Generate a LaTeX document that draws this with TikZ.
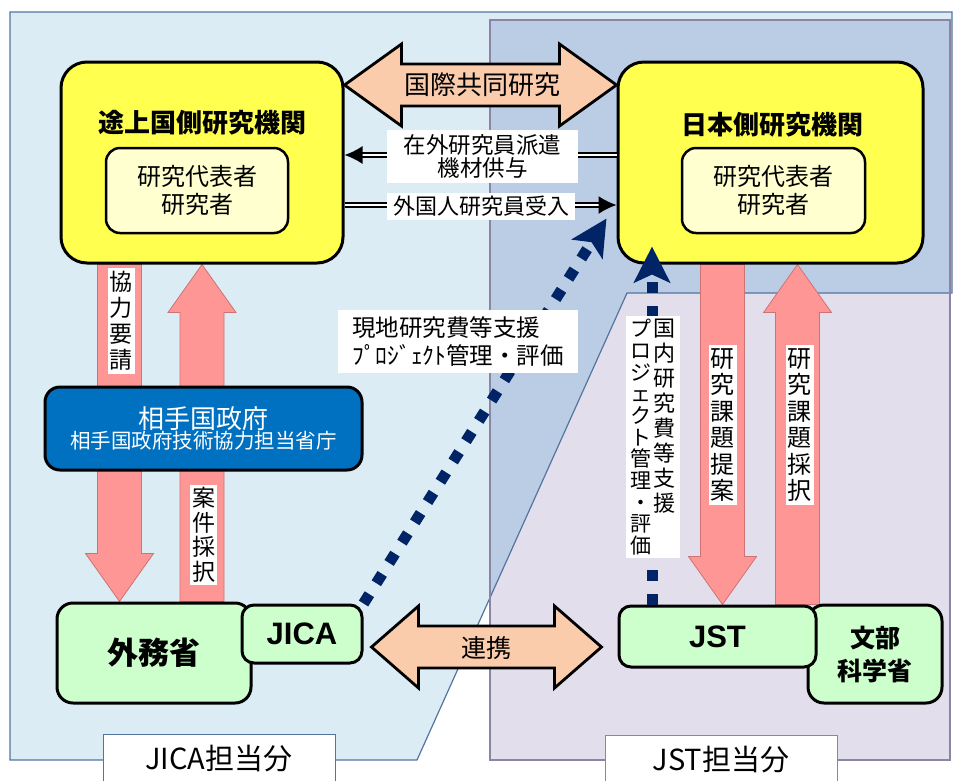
\documentclass[tikz,border=0pt]{standalone}
\usepackage{fontspec}
\setmainfont{Noto Sans CJK JP}
\newfontfamily\arialfont{Liberation Sans}
\usetikzlibrary{calc, arrows.meta}

\definecolor{bgJica}{RGB}{219,236,244}
\definecolor{bgJst}{RGB}{226,222,236}
\definecolor{bgBoth}{RGB}{186,205,228}
\definecolor{edgeJica}{RGB}{84,116,160}
\definecolor{edgeJst}{RGB}{140,132,165}
\definecolor{kikanYellow}{RGB}{255,255,80}
\definecolor{daihyoYellow}{RGB}{255,255,208}
\definecolor{seifuBlue}{RGB}{0,112,192}
\definecolor{shoGreen}{RGB}{204,255,204}
\definecolor{peach}{RGB}{250,204,172}
\definecolor{salmon}{RGB}{255,150,150}
\definecolor{salmonEdge}{RGB}{205,115,115}
\definecolor{navy}{RGB}{0,36,102}

\pgfdeclarelayer{back}
\pgfdeclarelayer{mid}
\pgfsetlayers{back,mid,main}

% pink block arrow: tail, tip, signed head length
\newcommand{\pinkarrow}[3]{%
  \draw[pinkarr] ($(#1)+(-22,0)$) -- ($(#2)+(-22,#3)$) -- ($(#2)+(-34,#3)$) -- (#2)
    -- ($(#2)+(34,#3)$) -- ($(#2)+(22,#3)$) -- ($(#1)+(22,0)$) -- cycle;}

% peach double arrow: left tip, right tip, head length
\newcommand{\peacharrow}[3]{%
  \draw[peacharr] (#1) -- ($(#1)+(#3,-41)$) -- ($(#1)+(#3,-21)$) -- ($(#2)+(-#3,-21)$)
    -- ($(#2)+(-#3,-41)$) -- (#2) -- ($(#2)+(-#3,41)$) -- ($(#2)+(-#3,21)$)
    -- ($(#1)+(#3,21)$) -- ($(#1)+(#3,41)$) -- cycle;}

\tikzset{
  kikan/.style={draw, line width=3pt, rounded corners=26pt, fill=kikanYellow},
  daihyo/.style={draw, line width=2.5pt, rounded corners=14pt, fill=daihyoYellow,
    align=center, font=\fontsize{24}{28}\selectfont},
  sho/.style={draw, line width=3pt, rounded corners=16pt, fill=shoGreen},
  tag/.style={fill=white, inner sep=1pt, align=center},
  vtag/.style={fill=white, inner xsep=2pt, inner ysep=3pt, align=center},
  tanto/.style={fill=white, line width=1pt, anchor=north, minimum width=232pt,
    minimum height=48pt, font=\fontsize{29}{29}\selectfont},
  pinkarr/.style={fill=salmon, draw=salmonEdge, line width=0.8pt},
  peacharr/.style={fill=peach, draw=black, line width=2.8pt, line join=miter},
  dotarr/.style={navy, line width=11pt, dash pattern=on 11pt off 13pt,
    -{Stealth[length=36pt,width=36pt,inset=8pt]}},
  dblarr/.style={double, double distance=2.5pt, line width=1.6pt,
    -{Latex[length=18pt,width=18pt]}},
}

\begin{document}
\begin{tikzpicture}[x=1pt, y=-1pt]
\useasboundingbox (0,0) rectangle (955,780);

% JICA and JST areas
\begin{pgfonlayer}{back}
\fill[bgJica] (10,12) -- (952,12) -- (952,293) -- (627,293) -- (417,760) -- (10,760) -- cycle;
\fill[bgJst] (490,20) rectangle (950,760);
\fill[bgBoth] (490,20) -- (950,20) -- (950,293) -- (627,293) -- (490,598) -- cycle;
\draw[edgeJica, line width=1.2pt] (10,12) -- (952,12) -- (952,293) -- (627,293) -- (417,760) -- (10,760) -- cycle;
\draw[edgeJst, line width=1.2pt] (490,20) rectangle (950,760);
\end{pgfonlayer}

% research institutes
\node[kikan, minimum width=282pt, minimum height=201pt] (lbox) at (202,162.5) {};
\node[font=\bfseries\fontsize{26}{26}\selectfont] (ltitle) at (202,123) {途上国側研究機関};
\node[daihyo, minimum width=182pt, minimum height=85pt] (ldaihyo) at (197,190.5) {研究代表者\\研究者};

\node[kikan, minimum width=305pt, minimum height=201pt] (rbox) at (770.5,162.5) {};
\node[font=\bfseries\fontsize{26}{26}\selectfont] (rtitle) at (772,125) {日本側研究機関};
\node[daihyo, minimum width=183pt, minimum height=85pt] (rdaihyo) at (773.5,190.5) {研究代表者\\研究者};

% ministries and agencies
\node[draw, line width=3pt, rounded corners=15pt, fill=seifuBlue, text=white, align=center,
  minimum width=317pt, minimum height=83pt] (seifu) at (203.5,428.5)
  {{\fontsize{26}{30}\selectfont 相手国政府}\\{\fontsize{20.5}{26}\selectfont 相手国政府技術協力担当省庁}};
\node[sho, minimum width=194pt, minimum height=100pt,
  font=\bfseries\fontsize{31}{31}\selectfont] (gaimu) at (154,653) {外務省};
\node[sho, rounded corners=12pt, minimum width=120pt, minimum height=58pt,
  font=\arialfont\bfseries\fontsize{31}{31}\selectfont] (jica) at (302,634) {JICA};
\node[sho, align=center, minimum width=134pt, minimum height=98pt,
  font=\bfseries\fontsize{25}{33}\selectfont] (monka) at (875,654) {文部\\科学省};
\node[sho, rounded corners=12pt, minimum width=197pt, minimum height=61pt,
  font=\arialfont\bfseries\fontsize{31}{31}\selectfont] (jst) at (717.5,636.5) {JST};

% pink arrows behind the boxes
\begin{pgfonlayer}{mid}
\pinkarrow{[xshift=-82.5pt]lbox.south}{[xshift=-34.5pt]gaimu.north}{-48}
\pinkarrow{[xshift=48pt]gaimu.north}{lbox.south}{48}
\pinkarrow{[xshift=-48pt]rbox.south}{[xshift=5pt]jst.north}{-48}
\pinkarrow{[xshift=80pt]jst.north}{[xshift=27pt]rbox.south}{48}
\end{pgfonlayer}

% joint research and cooperation
\peacharrow{[yshift=77.5pt]lbox.east}{[yshift=77.5pt]rbox.west}{57}
\node[font=\fontsize{26}{26}\selectfont] (kyodo) at (482,85) {国際共同研究};
\peacharrow{[xshift=8pt,yshift=-13pt]jica.east}{[xshift=-16pt,yshift=-10.5pt]jst.west}{47}
\node[font=\fontsize{25}{25}\selectfont] (renkei) at (486,648) {連携};

% funding and management
\draw[dotarr] (jica.north east) -- ([xshift=-10pt,yshift=-56pt]rbox.west);
\draw[dotarr] ([xshift=-65.5pt]jst.north) -- ([xshift=-118.5pt,yshift=18pt]rbox.south);

% exchange of researchers
\draw[dblarr] ([yshift=7.5pt]rbox.west) -- ([yshift=7.5pt]lbox.east);
\draw[dblarr] ([yshift=-42.5pt]lbox.east) -- ([yshift=-42.5pt]rbox.west);

% labels
\node[tag, minimum width=191pt, minimum height=53pt, font=\fontsize{22.5}{23.5}\selectfont]
  (haken) at (482.5,156.5) {在外研究員派遣\\機材供与};
\node[tag, minimum width=188pt, minimum height=27pt, font=\fontsize{22}{22}\selectfont]
  (ukeire) at (481,206.5) {外国人研究員受入};
\node[tag, align=left, minimum width=240pt, minimum height=63pt, font=\fontsize{23.5}{28}\selectfont]
  (genchi) at (458,341.5) {現地研究費等支援\\ﾌﾟﾛｼﾞｪｸﾄ管理・評価};
\node[vtag, font=\fontsize{23}{26}\selectfont] (yosei) at (121,321) {協\\力\\要\\請};
\node[vtag, font=\fontsize{23}{24.5}\selectfont] (saitaku) at (203.5,535) {案\\件\\採\\択};
\node[vtag, font=\fontsize{24}{26.5}\selectfont] (teian) at (722.5,425) {研\\究\\課\\題\\提\\案};
\node[vtag, font=\fontsize{24}{26.5}\selectfont] (kadai) at (799.5,425) {研\\究\\課\\題\\採\\択};
\node[vtag, anchor=north, inner sep=3pt] (kokunai) at (652.5,316)
  {\parbox[t]{24pt}{\centering\fontsize{21}{21.7}\selectfont プ\\ロ\\ジ\\ェ\\ク\\ト\\管\\理\\・\\評\\価}%
   \parbox[t]{24pt}{\centering\fontsize{22}{25}\selectfont 国\\内\\研\\究\\費\\等\\支\\援}};

% areas
\node[tanto, draw=edgeJica] (jicatanto) at (219,734) {JICA担当分};
\node[tanto, draw=edgeJst] (jsttanto) at (721,735) {JST担当分};

\end{tikzpicture}
\end{document}
